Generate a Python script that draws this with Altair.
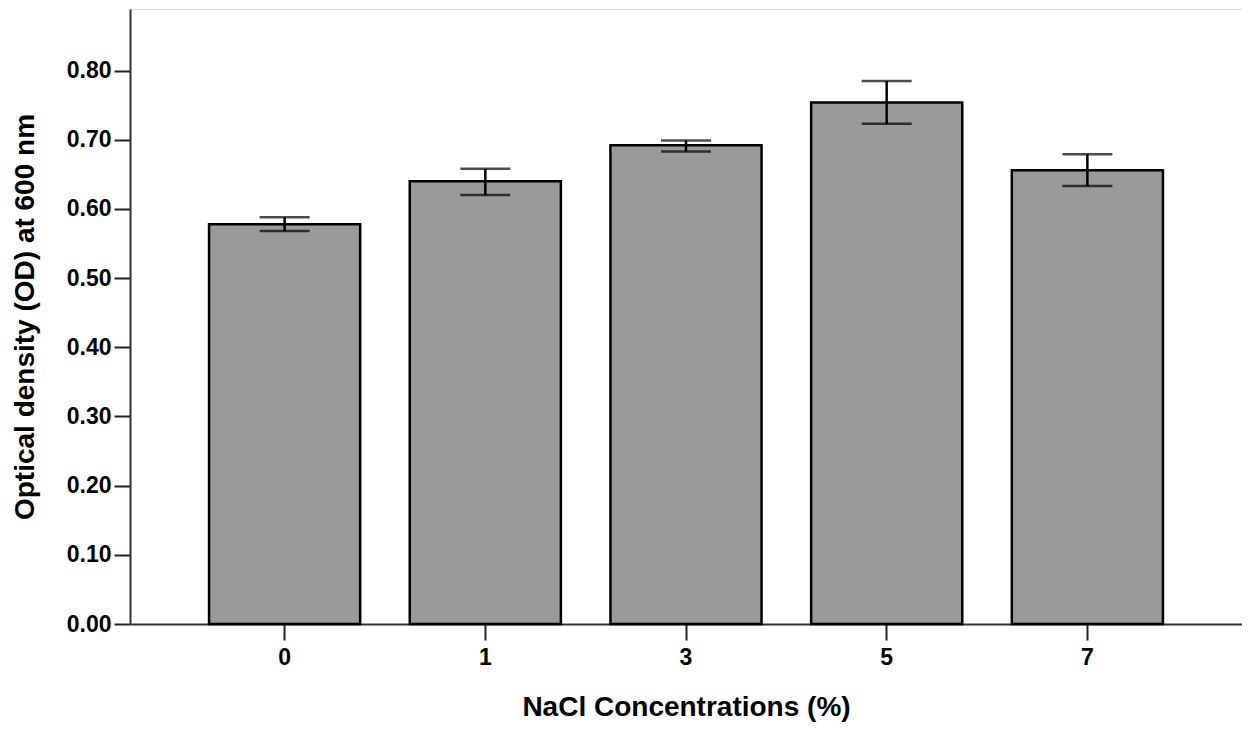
import altair as alt
import pandas as pd

concentrations = ["0", "1", "3", "5", "7"]
od_mean = [0.578, 0.640, 0.692, 0.754, 0.656]
err_low = [0.568, 0.620, 0.683, 0.723, 0.633]
err_high = [0.588, 0.658, 0.699, 0.785, 0.679]

df = pd.DataFrame({
    "conc": concentrations,
    "od": od_mean,
    "lo": err_low,
    "hi": err_high,
})

FONT = "Liberation Sans"

x_enc = alt.X(
    "conc:N",
    sort=None,
    title="NaCl Concentrations (%)",
    scale=alt.Scale(paddingInner=0.247, paddingOuter=0.394),
    axis=alt.Axis(
        labelAngle=0,
        labelFont=FONT,
        labelFontSize=23,
        labelFontWeight="bold",
        labelColor="black",
        labelPadding=6,
        tickSize=16,
        tickWidth=2,
        tickColor="#222222",
        domainColor="#333333",
        domainWidth=2,
        titleFont=FONT,
        titleFontSize=28,
        titleFontWeight="bold",
        titleColor="black",
        titlePadding=24,
    ),
)

y_scale = alt.Scale(domain=[0, 0.889], nice=False)
y_axis = alt.Axis(
    values=[0, 0.1, 0.2, 0.3, 0.4, 0.5, 0.6, 0.7, 0.8],
    format=".2f",
    grid=False,
    labelFont=FONT,
    labelFontSize=23,
    labelFontWeight="bold",
    labelColor="black",
    labelPadding=3,
    tickSize=16,
    tickWidth=2,
    tickColor="#222222",
    domainColor="#333333",
    domainWidth=2,
    titleFont=FONT,
    titleFontSize=28,
    titleFontWeight="bold",
    titleColor="black",
    titlePadding=27,
)

bars = alt.Chart(df).mark_bar(
    color="#9a9a9a", stroke="black", strokeWidth=2.5
).encode(
    x=x_enc,
    y=alt.Y("od:Q", scale=y_scale, axis=y_axis, title="Optical density (OD) at 600 nm"),
)

rules = alt.Chart(df).mark_rule(color="black", strokeWidth=2.5).encode(
    x=alt.X("conc:N", sort=None),
    y=alt.Y("lo:Q", scale=y_scale),
    y2="hi:Q",
)

cap_lo = alt.Chart(df).mark_tick(color="black", size=50, thickness=2.5).encode(
    x=alt.X("conc:N", sort=None),
    y=alt.Y("lo:Q", scale=y_scale),
)
cap_hi = alt.Chart(df).mark_tick(color="black", size=50, thickness=2.5).encode(
    x=alt.X("conc:N", sort=None),
    y=alt.Y("hi:Q", scale=y_scale),
)

chart = alt.layer(bars, rules, cap_lo, cap_hi).properties(
    width=1112,
    height=615,
    autosize=alt.AutoSizeParams(type="none"),
    padding={"left": 122, "top": 1, "right": 0, "bottom": 104},
).configure_view(
    stroke="#5a5a5a", strokeWidth=2
).configure(background="white")

chart.save("out.html", embed_options={"renderer": "svg", "actions": False})
